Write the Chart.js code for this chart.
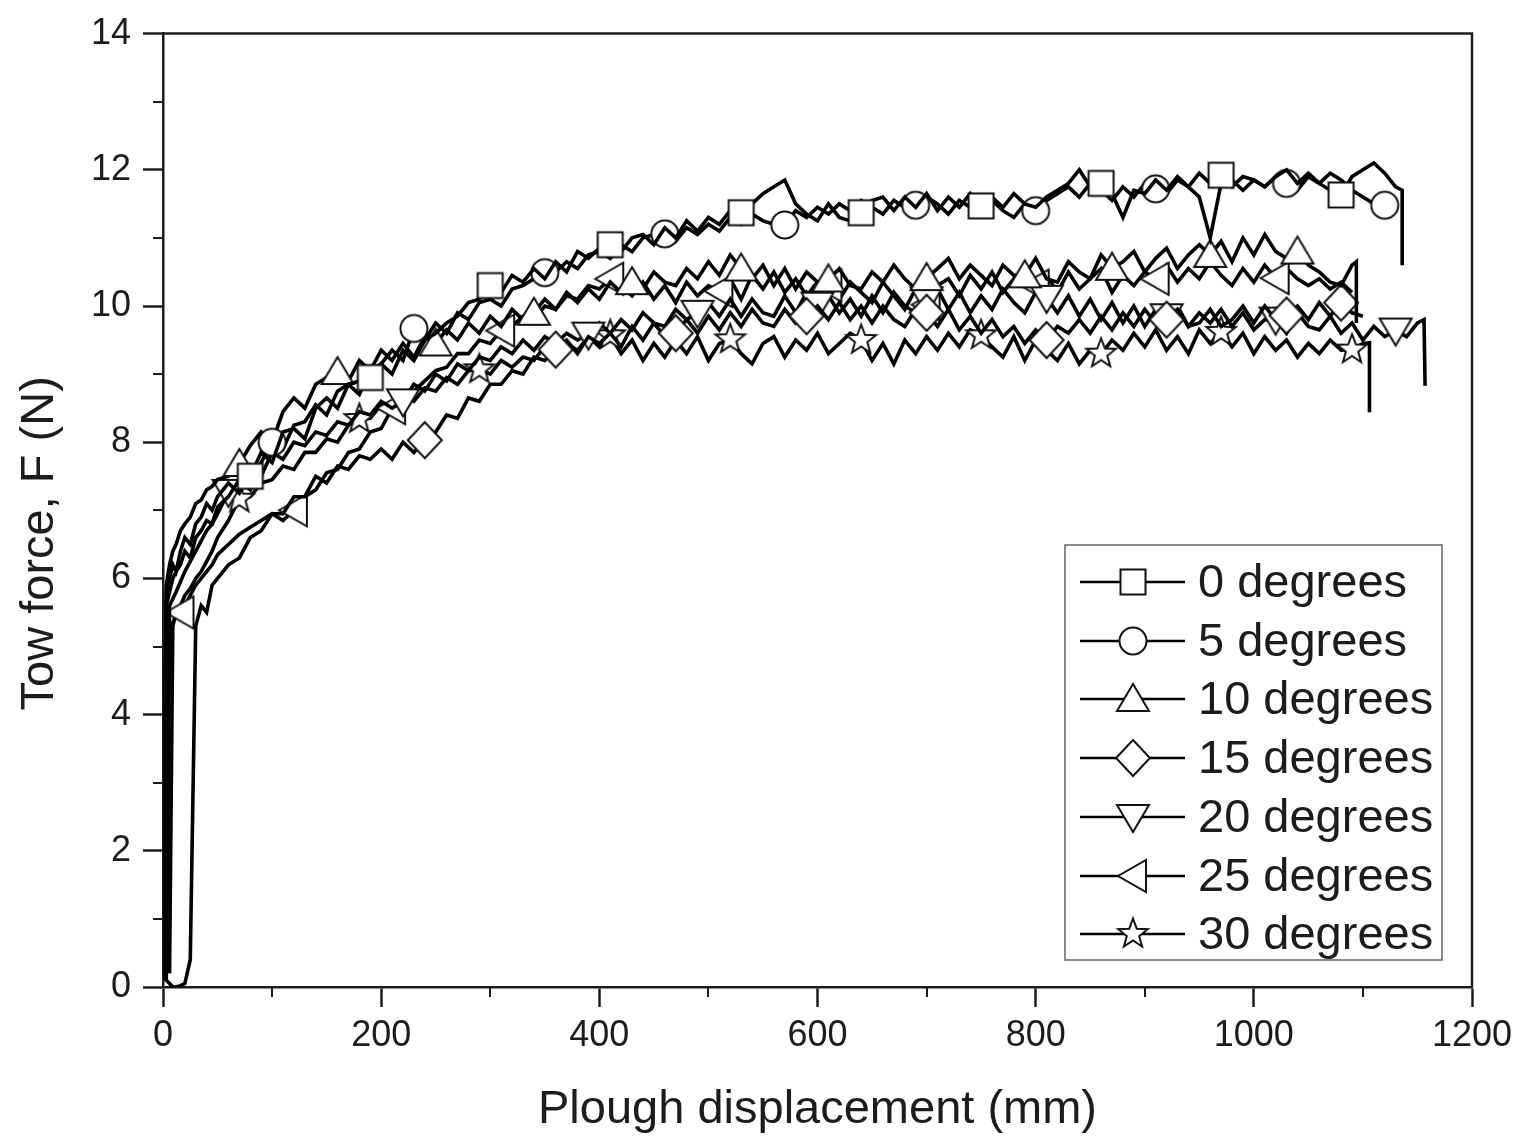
<!DOCTYPE html>
<html><head><meta charset="utf-8">
<script src="https://cdn.jsdelivr.net/npm/chart.js@4.4.1/dist/chart.umd.min.js"></script>
<style>html,body{margin:0;padding:0;background:#fff}canvas{display:block}</style>
</head><body>
<canvas id="c" width="1526" height="1142"></canvas>
<script>
// Plough displacement (mm) sample grid
const disp = [0,3,6,9,12,16,20,25,30,35,40,45,50,
 60,70,80,90,100,110,120,130,140,150,
 160,170,180,190,200,210,220,230,240,250,
 260,270,280,290,300,310,320,330,340,350,
 360,370,380,390,400,410,420,430,440,450,
 460,470,480,490,500,510,520,530,540,550,
 560,570,580,590,600,610,620,630,640,650,
 660,670,680,690,700,710,720,730,740,750,
 760,770,780,790,800,810,820,830,840,850,
 860,870,880,890,900,910,920,930,940,950,
 960,970,980,990,1000,1010,1020,1030,1040,1050,
 1060,1070,1080,1090,1100,1110,1120,1130,1140,1150,
 1160];

const seriesLabels = ['0 degrees','5 degrees','10 degrees','15 degrees','20 degrees','25 degrees','30 degrees'];

// Tow force F (N) per series, on the disp grid
const f0 = [0.2,5.8,6.0,6.2,6.1,6.4,6.6,6.5,6.8,6.9,7.1,7.0,7.2,
 7.4,7.25,7.5,7.85,7.7,8.15,8.2,8.05,8.5,8.65,
 8.5,8.85,8.9,8.95,9.15,9.0,9.35,9.2,9.5,9.6,
 9.75,9.85,10.05,10.1,10.3,10.2,10.45,10.35,10.55,10.4,
 10.65,10.5,10.8,10.7,10.85,10.9,10.8,11.0,11.05,10.9,
 11.15,11.0,11.25,11.1,11.3,11.2,11.4,11.37,11.5,11.65,
 11.75,11.85,11.5,11.35,11.25,11.5,11.3,11.25,11.37,11.55,
 11.6,11.4,11.6,11.45,11.65,11.4,11.6,11.45,11.65,11.47,
 11.6,11.45,11.65,11.5,11.45,11.6,11.7,11.8,12.0,11.75,
 11.8,11.65,11.3,11.7,11.65,11.85,11.7,11.9,11.75,11.95,
 11.8,11.92,11.75,11.9,11.85,11.75,11.9,12.0,11.8,11.95,
 11.8,11.7,11.63,11.9,12.0,12.1,11.95,11.75,null,null,
 null];
const f5 = [0.1,5.6,5.8,6.0,6.1,6.2,6.4,6.3,6.6,6.7,6.85,6.8,7.05,
 7.2,7.45,7.3,7.7,8.0,7.9,8.25,8.3,8.55,8.4,
 8.75,8.85,8.7,9.05,9.15,9.35,9.2,9.67,9.5,9.75,
 9.6,9.9,9.8,10.05,10.1,10.0,10.25,10.3,10.4,10.49,
 10.5,10.65,10.55,10.75,10.8,10.7,10.9,10.8,11.0,11.05,
 11.06,10.95,11.15,11.05,11.2,11.1,11.3,11.2,11.35,11.25,
 11.2,11.19,11.4,11.3,11.45,11.35,11.5,11.4,11.55,11.45,
 11.35,11.55,11.45,11.48,11.6,11.5,11.35,11.55,11.45,11.35,
 11.55,11.4,11.3,11.5,11.4,11.55,11.65,11.75,11.6,11.8,
 11.7,11.55,11.75,11.6,11.8,11.72,11.65,11.85,11.75,11.6,
 11.0,11.8,11.85,11.7,11.85,11.75,11.9,11.8,11.7,11.9,
 11.8,11.95,11.85,11.7,11.6,11.5,11.48,null,null,null,
 null];
const f10 = [0.1,5.9,6.2,6.4,6.5,6.7,6.8,6.9,7.1,7.15,7.3,7.35,7.45,
 7.5,7.68,7.95,8.15,8.0,8.45,8.65,8.5,8.85,8.95,
 9.03,8.9,9.2,9.05,9.35,9.2,9.45,9.25,9.55,9.45,
 9.65,9.5,9.75,9.6,9.85,9.7,9.95,9.8,9.9,10.1,
 9.95,10.2,10.05,10.25,10.1,10.35,10.2,10.35,10.25,10.5,
 10.35,10.3,10.55,10.4,10.65,10.45,10.75,10.55,10.4,10.6,
 10.3,10.55,10.25,10.5,10.35,10.39,10.55,10.3,10.25,10.5,
 10.35,10.6,10.4,10.25,10.41,10.55,10.7,10.4,10.6,10.45,
 10.3,10.6,10.45,10.45,10.7,10.4,10.35,10.65,10.5,10.4,
 10.75,10.56,10.65,10.8,10.5,10.7,10.85,10.55,10.75,10.9,
 10.75,10.95,10.65,11.0,10.75,11.05,10.8,10.7,10.8,10.6,
 10.5,10.35,10.3,10.6,null,null,null,null,null,null,
 null];
const f15 = [0.3,0.1,0.05,0.0,0.0,0.02,0.05,0.4,5.3,5.6,5.5,5.9,6.0,
 6.2,6.3,6.6,6.7,6.95,6.95,7.2,7.2,7.5,7.4,
 7.65,7.6,7.8,7.75,7.9,7.75,8.0,7.85,8.03,8.15,
 8.4,8.35,8.65,8.6,8.85,8.85,9.05,9.0,9.25,9.2,
 9.36,9.5,9.3,9.55,9.45,9.6,9.4,9.7,9.5,9.75,
 9.55,9.6,9.8,9.6,9.85,9.65,9.9,9.7,9.95,9.75,
 9.7,9.95,9.75,9.85,10.0,9.8,10.05,9.8,10.0,9.75,
 10.0,9.8,9.7,9.95,9.9,9.7,9.95,9.65,9.85,9.6,
 9.8,9.55,9.7,9.45,9.65,9.5,9.7,9.6,9.8,9.6,
 9.85,9.65,9.9,9.7,9.95,9.75,9.8,9.95,9.7,9.75,
 9.95,9.7,9.8,10.0,9.75,10.0,9.8,9.86,10.0,9.8,
 10.05,9.85,10.05,9.9,9.85,null,null,null,null,null,
 null];
const f20 = [null,0.1,5.6,5.7,5.8,5.95,6.1,6.25,6.4,6.55,6.7,6.8,6.95,
 7.27,7.3,7.6,7.5,7.85,7.75,8.0,7.95,8.15,8.1,
 8.3,8.25,8.45,8.4,8.6,8.5,8.6,8.85,8.75,9.0,
 8.9,9.15,9.05,9.25,9.2,9.4,9.3,9.5,9.35,9.55,
 9.45,9.6,9.5,9.58,9.75,9.6,9.8,9.65,9.9,9.75,
 9.7,9.95,9.8,9.9,10.05,9.85,10.1,9.85,10.1,9.9,
 9.85,10.15,9.9,10.2,10.02,10.15,9.9,10.1,9.85,10.15,
 9.9,10.2,10.0,9.9,10.1,10.25,9.95,10.2,9.9,10.15,
 9.95,10.25,10.05,9.9,10.2,10.12,9.9,10.15,9.85,10.1,
 9.8,10.05,9.75,10.0,9.7,9.95,9.85,10.0,9.7,9.9,
 9.75,9.95,9.7,9.9,9.65,9.8,9.8,9.6,9.9,9.7,
 9.65,9.85,9.6,9.75,9.5,9.7,9.55,9.64,9.55,9.75,
 null];
const f25 = [null,0.2,5.3,5.35,5.45,5.5,5.6,5.75,5.9,6.0,6.1,6.2,6.35,
 6.5,6.65,6.75,6.85,6.95,6.85,7.0,7.2,7.3,7.55,
 7.6,7.85,7.9,8.15,8.2,8.5,8.6,8.75,8.9,9.05,
 9.1,9.3,9.3,9.5,9.45,9.64,9.7,9.85,9.8,10.0,
 9.95,10.15,10.1,10.3,10.25,10.4,10.3,10.15,10.35,10.1,
 10.3,10.05,10.35,10.15,10.3,10.22,10.4,10.1,10.45,10.25,
 10.5,10.2,10.4,10.15,10.35,10.3,10.1,10.35,10.2,10.05,
 10.35,10.15,9.95,10.25,10.02,10.3,10.4,10.15,10.45,10.25,
 10.5,10.2,10.4,10.5,10.3,10.45,10.2,10.5,10.25,10.4,
 10.55,10.2,10.45,10.3,10.5,10.4,10.6,10.35,10.55,10.4,
 10.65,10.45,10.3,10.55,10.35,10.6,10.41,10.55,10.4,10.3,
 10.4,10.25,10.35,10.2,null,null,null,null,null,null,
 null];
const f30 = [null,null,0.2,5.3,5.5,5.6,5.75,5.85,6.0,6.1,6.25,6.4,6.6,
 6.85,7.17,7.2,7.4,7.45,7.65,7.6,7.85,7.85,8.05,
 8.0,8.25,8.34,8.35,8.55,8.45,8.7,8.6,8.8,8.75,
 8.95,8.85,9.05,9.07,9.0,9.2,9.1,9.25,9.2,9.4,
 9.3,9.45,9.35,9.55,9.4,9.57,9.3,9.5,9.2,9.45,
 9.25,9.5,9.3,9.55,9.2,9.45,9.51,9.3,9.15,9.45,
 9.55,9.25,9.5,9.35,9.6,9.3,9.45,9.6,9.5,9.2,
 9.45,9.15,9.5,9.3,9.55,9.35,9.6,9.4,9.65,9.57,
 9.4,9.25,9.55,9.2,9.5,9.35,9.2,9.45,9.15,9.35,
 9.3,9.5,9.35,9.6,9.4,9.65,9.35,9.55,9.3,9.65,
 9.45,9.62,9.4,9.6,9.3,9.55,9.35,9.5,9.25,9.45,
 9.3,9.5,9.35,9.36,9.45,null,null,null,null,null,
 null];

// final unloading drops [displacement, force]
const tail0 = [[1136, 11.7], [1136, 10.6]];
const tail10 = [[1094, 10.65], [1094, 9.75]];
const tail20 = [[1156, 9.8], [1157, 8.83]];
const tail30 = [[1106, 9.46], [1106, 8.44]];

// displacements where a symbol is shown
const mark0 = [80,190,300,410,530,640,750,860,970,1080];
const mark5 = [100,230,350,460,570,690,800,910,1030,1120];
const mark10 = [70,160,250,340,430,530,610,700,790,870,960,1040];
const mark15 = [240,360,470,590,700,810,920,1030,1080];
const mark20 = [60,220,390,490,600,700,810,920,1020,1130];
const mark25 = [16,120,210,310,410,510,610,700,800,910,1020];
const mark30 = [70,180,290,410,520,640,750,860,970,1090];

const xTicks = [0,200,400,600,800,1000,1200];
const yTicks = [0,2,4,6,8,10,12,14];

function makeMarker(shape) {
  const s = 46, c = document.createElement('canvas');
  c.width = s; c.height = s;
  const g = c.getContext('2d'), m = s / 2;
  g.lineWidth = 2; g.strokeStyle = '#111'; g.fillStyle = '#fff'; g.lineJoin = 'miter';
  g.beginPath();
  switch (shape) {
    case 'square': g.rect(m - 12.5, m - 12.5, 25, 25); break;
    case 'circle': g.arc(m, m, 13.5, 0, 2 * Math.PI); break;
    case 'up': g.moveTo(m, m - 15); g.lineTo(m + 16, m + 12); g.lineTo(m - 16, m + 12); g.closePath(); break;
    case 'diamond': g.moveTo(m, m - 18); g.lineTo(m + 17, m); g.lineTo(m, m + 18); g.lineTo(m - 17, m); g.closePath(); break;
    case 'down': g.moveTo(m - 16, m - 12); g.lineTo(m + 16, m - 12); g.lineTo(m, m + 15); g.closePath(); break;
    case 'left': g.moveTo(m - 15, m); g.lineTo(m + 13, m - 16); g.lineTo(m + 13, m + 16); g.closePath(); break;
    case 'star':
      for (let k = 0; k < 10; k++) {
        const r = k % 2 ? 6.5 : 15.5, a = -Math.PI / 2 + k * Math.PI / 5;
        const px = m + r * Math.cos(a), py = m + r * Math.sin(a);
        if (k) g.lineTo(px, py); else g.moveTo(px, py);
      }
      g.closePath(); break;
  }
  g.fill(); g.stroke();
  return c;
}
const shapes = ['square','circle','up','diamond','down','left','star'];
const markerImgs = shapes.map(makeMarker);

function build(ys, tail) {
  const pts = [];
  ys.forEach((y, i) => { if (y !== null) pts.push({x: disp[i], y: y}); });
  if (tail) tail.forEach(p => pts.push({x: p[0], y: p[1]}));
  return pts;
}
const allY = [f0, f5, f10, f15, f20, f25, f30];
const allTail = [tail0, null, tail10, null, tail20, null, tail30];
const allMarks = [mark0, mark5, mark10, mark15, mark20, mark25, mark30];

const datasets = allY.map((ys, k) => {
  const set = new Set(allMarks[k]);
  const nPts = ys.filter(v => v !== null).length;
  return {
    label: seriesLabels[k],
    data: build(ys, allTail[k]),
    borderColor: '#000',
    borderWidth: 3.6,
    borderJoinStyle: 'miter',
    tension: 0,
    fill: false,
    pointStyle: markerImgs[k],
    pointRadius: ctx => (ctx.dataIndex < nPts && ctx.raw && set.has(ctx.raw.x)) ? 12 : 0,
    pointHoverRadius: 0,
    pointHitRadius: 0
  };
});

const FONT = "'Liberation Sans', Arial, Helvetica, sans-serif";
const INK = '#1c1c1c';

const framePlugin = {
  id: 'frameTicks',
  afterDraw(chart) {
    const {ctx, chartArea: a, scales} = chart;
    ctx.save();
    ctx.strokeStyle = INK; ctx.lineWidth = 2.5;
    ctx.beginPath();
    ctx.moveTo(a.left, a.top); ctx.lineTo(a.right, a.top); ctx.lineTo(a.right, a.bottom);
    ctx.stroke();
    ctx.lineWidth = 2;
    ctx.beginPath();
    for (let v = 100; v < 1200; v += 200) {
      const px = Math.round(scales.x.getPixelForValue(v));
      ctx.moveTo(px, a.bottom); ctx.lineTo(px, a.bottom + 10);
    }
    for (let v = 1; v < 14; v += 2) {
      const py = Math.round(scales.y.getPixelForValue(v));
      ctx.moveTo(a.left - 10, py); ctx.lineTo(a.left, py);
    }
    ctx.stroke();
    // y axis title
    ctx.translate(40, (a.top + a.bottom) / 2 + 33);
    ctx.rotate(-Math.PI / 2);
    ctx.fillStyle = INK; ctx.font = '47px ' + FONT;
    ctx.textAlign = 'center'; ctx.textBaseline = 'middle';
    ctx.fillText('Tow force, F (N)', 0, 0);
    ctx.restore();

    // legend box
    const x0 = a.right - 407, y0 = a.bottom - 442, w = 377, h = 415;
    ctx.save();
    ctx.fillStyle = '#fff';
    ctx.fillRect(x0, y0, w, h);
    ctx.strokeStyle = '#666'; ctx.lineWidth = 1.5;
    ctx.strokeRect(x0, y0, w, h);
    ctx.font = '47px ' + FONT; ctx.textAlign = 'left'; ctx.textBaseline = 'middle';
    for (let k = 0; k < seriesLabels.length; k++) {
      const cy = Math.round(y0 + 37 + k * 58.7);
      ctx.strokeStyle = '#000'; ctx.lineWidth = 2.5;
      ctx.beginPath(); ctx.moveTo(x0 + 15, cy); ctx.lineTo(x0 + 120, cy); ctx.stroke();
      const img = markerImgs[k];
      ctx.drawImage(img, x0 + 68 - img.width / 2, cy - img.height / 2);
      ctx.fillStyle = INK;
      ctx.fillText(seriesLabels[k], x0 + 133, cy + 2);
    }
    ctx.restore();
  }
};

new Chart(document.getElementById('c'), {
  type: 'line',
  data: {datasets},
  options: {
    responsive: false,
    animation: false,
    devicePixelRatio: 1,
    layout: {padding: {top: 30, right: 54, left: 0, bottom: 0}},
    plugins: {legend: {display: false}, tooltip: {enabled: false}},
    scales: {
      x: {
        type: 'linear', min: 0, max: 1200,
        afterFit: s => { s.height = 155; },
        afterBuildTicks: s => { s.ticks = xTicks.map(v => ({value: v})); },
        ticks: {color: INK, font: {family: FONT, size: 36}, padding: 7, maxRotation: 0,
                callback: v => String(v)},
        grid: {display: true, drawOnChartArea: false, drawTicks: true, tickLength: 20, tickColor: INK, tickWidth: 2.5},
        border: {display: true, color: INK, width: 2.5},
        title: {display: true, text: 'Plough displacement (mm)', color: INK,
                font: {family: FONT, size: 47, lineHeight: 1.2}, padding: {top: 0, bottom: 4}}
      },
      y: {
        type: 'linear', min: 0, max: 14,
        afterFit: s => { s.width = 163; },
        afterBuildTicks: s => { s.ticks = yTicks.map(v => ({value: v})); },
        ticks: {color: INK, font: {family: FONT, size: 36}, padding: 12,
                callback: v => String(v)},
        grid: {display: true, drawOnChartArea: false, drawTicks: true, tickLength: 20, tickColor: INK, tickWidth: 2.5},
        border: {display: true, color: INK, width: 2.5},
        title: {display: false}
      }
    }
  },
  plugins: [framePlugin]
});
</script>
</body></html>
